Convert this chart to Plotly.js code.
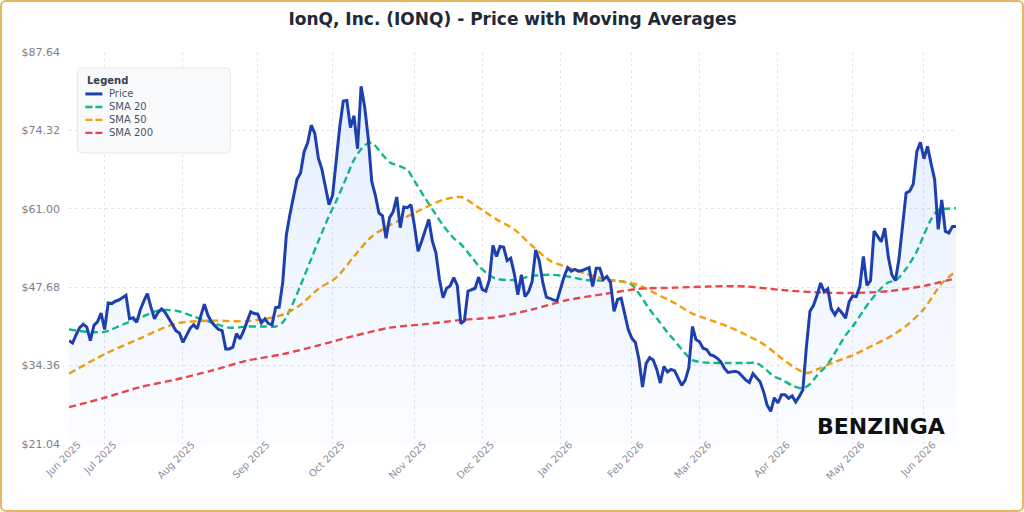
<!DOCTYPE html>
<html>
<head>
<meta charset="utf-8">
<script src="https://cdn.plot.ly/plotly-3.0.1.min.js"></script>
<style>
  html, body { margin: 0; padding: 0; background: #ffffff; }
  #wrap { position: relative; width: 1024px; height: 512px; }
  #chart { position: absolute; left: 0; top: 0; width: 1024px; height: 512px; }
  #frame { position: absolute; left: 0; top: 0; width: 1024px; height: 512px; box-sizing: border-box;
           border: 2px solid #e6b761; border-radius: 6px; pointer-events: none; }
</style>
</head>
<body>
<div id="wrap"><div id="chart"></div><div id="frame"></div></div>
<script>
// ---- Data ----
const firstDay = '2025-06-16';
const lastDay = '2026-06-12';
const marketHolidays = ['2025-06-19','2025-07-04','2025-09-01','2025-11-27','2025-12-25',
  '2026-01-01','2026-01-19','2026-02-16','2026-04-03','2026-05-25'];

const seriesNames = ['Price', 'SMA 20', 'SMA 50', 'SMA 200'];
const seriesColors = ['#1e40af', '#10b981', '#f59e0b', '#ef4444'];

const price = [
  38.6,38.2,39.6,40.8,41.4,40.9,38.6,41.2,41.8,43.3,
  40.5,45.0,44.9,45.3,45.5,45.9,46.3,42.3,42.5,41.7,
  43.8,45.3,46.6,44.3,42.3,43.4,44.0,43.4,42.5,41.4,
  40.3,39.9,38.3,39.6,40.7,41.3,40.6,42.8,44.8,42.9,
  41.8,41.1,40.5,40.3,37.2,37.2,37.5,39.8,38.9,40.2,
  41.8,43.5,43.2,43.1,41.6,42.3,41.5,41.3,44.2,44.3,
  48.5,56.5,60.0,63.0,66.0,67.1,70.7,72.2,75.2,73.8,
  69.6,67.7,64.7,61.7,63.3,69.5,74.9,79.3,79.4,74.8,
  76.8,71.2,81.8,78.3,73.0,65.6,63.3,60.3,59.8,56.0,
  59.5,60.5,63.0,57.8,61.3,61.2,61.7,58.0,53.8,55.5,
  57.5,59.2,55.5,53.5,49.0,45.9,47.5,47.9,49.3,48.0,
  41.5,42.0,47.0,47.3,47.5,49.4,47.3,47.0,48.9,54.8,
  52.9,54.6,54.5,52.2,52.6,50.0,46.4,49.8,46.1,46.9,
  48.6,54.0,52.2,48.5,46.0,45.8,45.5,45.4,47.4,49.5,
  51.0,50.4,50.7,50.4,50.5,50.7,51.0,47.8,50.9,50.9,
  49.0,49.5,48.5,43.6,45.6,45.8,43.3,40.5,39.0,38.3,
  35.4,30.7,34.7,35.7,35.3,33.7,31.4,34.2,33.3,33.7,
  33.5,32.3,31.0,31.9,34.0,41.0,38.8,38.4,37.3,37.1,
  36.2,36.0,35.6,35.0,33.9,33.2,33.3,33.4,33.2,32.5,
  31.9,31.5,33.0,32.3,31.6,29.9,27.6,26.6,28.9,28.0,
  29.4,29.4,28.8,29.2,28.2,29.1,30.2,37.5,43.6,44.6,
  46.3,48.4,46.9,47.4,44.0,43.0,44.0,43.3,42.4,45.2,
  46.2,46.1,47.8,52.9,48.0,48.8,57.2,56.3,55.4,57.7,
  52.8,49.8,48.8,52.5,58.5,63.7,64.0,65.2,70.7,72.3,
  69.5,71.6,68.7,66.0,57.5,62.5,57.2,56.9,58.0,58.0
];

// SMA readings: trading-day number -> value
const sma20Day = [0,5,10,15,20,25,30,35,40,45,50,55,58,60,62,65,68,70,73,75,78,80,83,85,88,90,93,95,97,100,103,105,108,110,113,115,118,120,125,130,135,140,145,150,155,158,160,163,165,168,170,173,175,178,185,190,193,195,198,200,203,206,208,210,213,215,218,220,223,225,228,230,232,235,238,240,242,244,246,249];
const sma20 = [40.5,40.1,40.1,41.3,42.5,43.7,43.7,42.7,41.7,40.8,41.0,41.0,41.0,41.7,43.8,48.0,52.5,55.5,59.8,62.3,66.5,69.3,71.8,72.2,70.2,68.9,68.2,67.6,65.7,62.8,60.0,58.2,56.0,55.0,52.8,51.3,49.7,49.1,48.9,49.6,49.8,49.5,48.9,48.8,48.7,48.1,46.6,43.9,42.4,40.0,38.6,36.4,35.3,34.9,34.8,34.8,34.8,34.0,32.5,32.0,31.0,30.5,31.2,32.7,34.6,36.5,39.5,41.0,43.7,45.4,47.5,48.5,48.8,50.8,53.8,56.6,59.2,60.8,61.0,61.1];

const sma50Day = [0,10,20,30,40,50,60,65,70,75,80,85,90,95,100,105,110,115,120,125,130,135,140,145,150,155,160,165,170,175,180,185,190,195,200,204,207,210,215,220,225,230,235,240,245,249];
const sma50 = [33.0,36.3,39.0,41.5,42.0,41.9,43.0,44.7,47.4,49.3,52.9,56.3,58.2,59.7,61.2,62.5,63.0,61.2,59.2,57.5,54.7,52.2,51.0,50.0,49.1,48.7,48.0,46.5,45.0,43.2,42.1,41.0,39.6,38.0,35.6,33.9,33.1,33.7,35.0,36.1,37.6,39.1,41.1,44.0,48.3,50.4];

const sma200Day = [0,10,20,30,40,50,60,70,80,90,100,110,120,130,140,150,160,170,180,190,200,210,220,230,240,249];
const sma200 = [27.3,28.9,30.7,32.0,33.5,35.2,36.3,37.8,39.4,40.8,41.4,42.1,42.6,43.9,45.5,46.5,47.4,47.6,47.8,47.8,47.2,46.8,46.7,47.0,47.9,49.2];

const yTicks = [21.04, 34.36, 47.68, 61.00, 74.32, 87.64];
const monthNames = ['Jan','Feb','Mar','Apr','May','Jun','Jul','Aug','Sep','Oct','Nov','Dec'];

// ---- Trading calendar ----
function tradingDays() {
  const out = [];
  const d = new Date(firstDay + 'T00:00:00Z');
  const end = new Date(lastDay + 'T00:00:00Z');
  while (d <= end) {
    const s = d.toISOString().slice(0, 10);
    const wd = d.getUTCDay();
    if (wd !== 0 && wd !== 6 && !marketHolidays.includes(s)) out.push(s);
    d.setUTCDate(d.getUTCDate() + 1);
  }
  return out;
}
const dates = tradingDays();

const tickVals = [], tickText = [];
let lastMonth = '';
dates.forEach(s => {
  const m = s.slice(0, 7);
  if (m !== lastMonth) {
    lastMonth = m;
    tickVals.push(s);
    tickText.push(monthNames[parseInt(s.slice(5, 7), 10) - 1] + ' ' + s.slice(0, 4));
  }
});

const W = 1024, H = 512;
const margin = { l: 68.6, r: 68, t: 52, b: 67.5, pad: 0 };
const font = 'DejaVu Sans, Verdana, sans-serif';
const dashStyle = '7px,4px';
const plotW = W - margin.l - margin.r;
const plotH = H - margin.t - margin.b;
const px = x => (x - margin.l) / plotW;          // page px -> paper x
const py = y => (H - margin.b - y) / plotH;      // page px -> paper y

const smaSets = [
  { day: sma20Day, val: sma20 },
  { day: sma50Day, val: sma50 },
  { day: sma200Day, val: sma200 }
];

const traces = smaSets.map((s, k) => ({
  type: 'scatter', mode: 'lines', name: seriesNames[k + 1],
  x: s.day.map(i => dates[i]), y: s.val,
  line: { color: seriesColors[k + 1], width: 2.4, dash: dashStyle, shape: 'spline', smoothing: 0.8 },
  hoverinfo: 'skip', showlegend: false
}));
traces.push({
  type: 'scatter', mode: 'lines', name: seriesNames[0],
  x: dates, y: price,
  line: { color: seriesColors[0], width: 3 },
  fill: 'tozeroy',
  fillgradient: {
    type: 'vertical',
    start: yTicks[0], stop: 85,
    colorscale: [[0, 'rgba(59,130,246,0.02)'], [1, 'rgba(59,130,246,0.14)']]
  },
  hoverinfo: 'skip', showlegend: false
});

// ---- Legend panel (box + keys + labels) ----
const lgBox = { x0: 77, x1: 230, y0: 68, y1: 153, r: 4 };
function roundRectPath(b) {
  const x0 = px(b.x0), x1 = px(b.x1), y0 = py(b.y0), y1 = py(b.y1);
  const rx = b.r / plotW, ry = b.r / plotH;
  return `M${x0 + rx},${y0} L${x1 - rx},${y0} Q${x1},${y0} ${x1},${y0 - ry} ` +
         `L${x1},${y1 + ry} Q${x1},${y1} ${x1 - rx},${y1} L${x0 + rx},${y1} ` +
         `Q${x0},${y1} ${x0},${y1 + ry} L${x0},${y0 - ry} Q${x0},${y0} ${x0 + rx},${y0} Z`;
}
const shapes = [{
  type: 'path', xref: 'paper', yref: 'paper', path: roundRectPath(lgBox),
  fillcolor: '#f9fafb', line: { color: '#e5e7eb', width: 1 }, layer: 'above'
}];
const annotations = [{
  text: '<b>Legend</b>', xref: 'paper', yref: 'paper',
  x: px(85), y: py(81), xanchor: 'left', yanchor: 'middle', showarrow: false,
  font: { family: font, size: 10, color: '#374151' }
}];
seriesNames.forEach((name, k) => {
  const rowY = 94 + 13 * k;
  shapes.push({
    type: 'line', xref: 'paper', yref: 'paper', layer: 'above',
    x0: px(85), x1: px(102), y0: py(rowY), y1: py(rowY),
    line: { color: seriesColors[k], width: k === 0 ? 3 : 2.4, dash: k === 0 ? 'solid' : '7px,3px' }
  });
  annotations.push({
    text: name, xref: 'paper', yref: 'paper',
    x: px(107), y: py(rowY), xanchor: 'left', yanchor: 'middle', showarrow: false,
    font: { family: font, size: 10, color: '#4b5563' }
  });
});
annotations.push({
  text: '<b>BENZINGA</b>',
  xref: 'paper', yref: 'paper',
  x: px(881), y: py(427),
  xanchor: 'center', yanchor: 'middle', showarrow: false,
  font: { family: font, size: 22, color: '#111111' }
});

const layout = {
  width: W, height: H,
  margin: margin,
  paper_bgcolor: '#ffffff',
  plot_bgcolor: '#ffffff',
  font: { family: font, size: 10, color: '#6b7280' },
  title: {
    text: '<b>IonQ, Inc. (IONQ) - Price with Moving Averages</b>',
    font: { family: font, size: 17, color: '#1f2937' },
    x: 0.5, xanchor: 'center', xref: 'paper',
    y: 1 - 19 / H, yanchor: 'middle', yref: 'container'
  },
  xaxis: {
    type: 'category',
    categoryorder: 'array', categoryarray: dates,
    range: [0, dates.length - 1],
    tickmode: 'array', tickvals: tickVals, ticktext: tickText,
    tickangle: -45,
    tickfont: { family: font, size: 10, color: '#8b909c' },
    showgrid: true, gridcolor: '#e3e5ea', gridwidth: 1, griddash: 'dot',
    zeroline: false, showline: false, ticks: '',
    ticklabelstandoff: -8, ticklabelshift: 9,
    automargin: false, fixedrange: true
  },
  yaxis: {
    range: [yTicks[0], yTicks[yTicks.length - 1]],
    tickmode: 'array', tickvals: yTicks,
    ticktext: yTicks.map(v => '$' + v.toFixed(2)),
    tickfont: { family: font, size: 11, color: '#7b808c' },
    showgrid: true, gridcolor: '#e3e5ea', gridwidth: 1, griddash: 'dot',
    zeroline: false, showline: false, ticks: '', ticklabelstandoff: 8,
    automargin: false, fixedrange: true
  },
  showlegend: false,
  shapes: shapes,
  annotations: annotations
};

Plotly.newPlot('chart', traces, layout, { displayModeBar: false, staticPlot: true });
</script>
</body>
</html>
